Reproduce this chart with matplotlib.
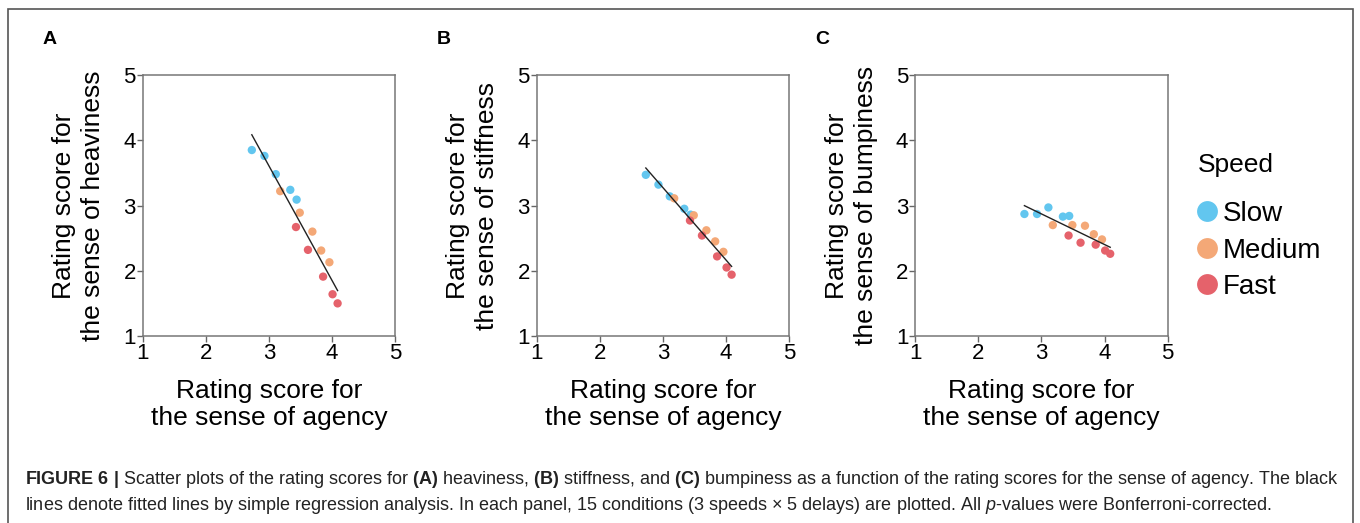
"""Figure 6: rating scores for heaviness / stiffness / bumpiness vs sense of agency."""
import matplotlib
matplotlib.use('Agg')
import matplotlib.pyplot as plt
from matplotlib.lines import Line2D
from matplotlib.patches import Rectangle
import numpy as np

plt.rcParams['font.family'] = ['Liberation Sans', 'DejaVu Sans']
plt.rcParams['mathtext.fontset'] = 'custom'
plt.rcParams['mathtext.rm'] = 'Liberation Sans'
plt.rcParams['mathtext.bf'] = 'Liberation Sans:bold'
plt.rcParams['mathtext.it'] = 'Liberation Sans:italic'

# === DATA ===
speeds = ['Slow', 'Medium', 'Fast']
speed_colors = ['#62C6EF', '#F4A877', '#E5626B']

# sense of agency (x), same 15 conditions in every panel
agency = {
    'Slow':   [2.73, 2.93, 3.11, 3.34, 3.44],
    'Medium': [3.18, 3.49, 3.69, 3.83, 3.96],
    'Fast':   [3.43, 3.62, 3.86, 4.01, 4.09],
}
heaviness = {
    'Slow':   [3.85, 3.76, 3.48, 3.24, 3.09],
    'Medium': [3.22, 2.89, 2.60, 2.31, 2.13],
    'Fast':   [2.67, 2.32, 1.91, 1.64, 1.50],
}
stiffness = {
    'Slow':   [3.47, 3.32, 3.14, 2.95, 2.86],
    'Medium': [3.11, 2.85, 2.62, 2.45, 2.29],
    'Fast':   [2.77, 2.54, 2.22, 2.05, 1.94],
}
bumpiness = {
    'Slow':   [2.87, 2.87, 2.97, 2.83, 2.84],
    'Medium': [2.70, 2.70, 2.69, 2.56, 2.48],
    'Fast':   [2.54, 2.43, 2.40, 2.31, 2.26],
}

panels = [
    ('A', heaviness, 'Rating score for\nthe sense of heaviness'),
    ('B', stiffness, 'Rating score for\nthe sense of stiffness'),
    ('C', bumpiness, 'Rating score for\nthe sense of bumpiness'),
]
ticks = [1, 2, 3, 4, 5]

# === CHART ===
W, H = 1360, 523
fig = plt.figure(figsize=(W / 100, H / 100), dpi=100)

ax_lefts = [142.7, 536.7, 915.3]
letter_x = [50, 444, 822]
ax_w, ax_top, ax_bot = 252.3, 75, 336

for (letter, ydata, ylabel), left, lx in zip(panels, ax_lefts, letter_x):
    ax = fig.add_axes([left / W, 1 - ax_bot / H, ax_w / W, (ax_bot - ax_top) / H])
    xs_all, ys_all = [], []
    for sp, col in zip(speeds, speed_colors):
        ax.scatter(agency[sp], ydata[sp], s=36, color=col, edgecolors='none', zorder=3)
        xs_all += agency[sp]
        ys_all += ydata[sp]
    # simple regression line
    slope, intercept = np.polyfit(xs_all, ys_all, 1)
    xl = np.array([min(xs_all), max(xs_all)])
    ax.plot(xl, slope * xl + intercept, color='#222222', linewidth=1.0, zorder=4)

    ax.set_xlim(1, 5)
    ax.set_ylim(1, 5)
    ax.set_xticks(ticks)
    ax.set_yticks(ticks)
    ax.tick_params(labelsize=16, length=4, width=1, color='#666666', pad=1)
    for spine in ax.spines.values():
        spine.set_color('#777777')
        spine.set_linewidth(1.1)
    ax.set_xlabel('Rating score for\nthe sense of agency', fontsize=19, labelpad=11, linespacing=1.17)
    ax.set_ylabel(ylabel, fontsize=19, labelpad=13, linespacing=1.25)

    fig.text(lx / W, 1 - 40 / H, letter, fontsize=14, fontweight='bold', ha='center', va='center')

# legend (title drawn separately to get the larger gap)
fig.text(1198 / W, 1 - 165 / H, 'Speed', fontsize=19, ha='left', va='center')
handles = [Line2D([], [], marker='o', linestyle='none', markersize=15, color=c, markeredgewidth=0)
           for c in speed_colors]
leg = fig.legend(handles, speeds, loc='upper left',
                 bbox_to_anchor=(1194 / W, 1 - 201 / H), frameon=False, fontsize=20,
                 handletextpad=0.1, labelspacing=0.38, handlelength=0.95,
                 borderaxespad=0, borderpad=0)

# outer frame (open at the bottom)
fig.patches.append(Rectangle((8 / W, -0.1), (1353 - 8) / W, 1.1 - 9 / H, transform=fig.transFigure,
                             fill=False, edgecolor='#555555', linewidth=1.2))

# caption
cap1 = (r'$\mathbf{FIGURE\ 6\ |}$ Scatter plots of the rating scores for $\mathbf{(A)}$ heaviness, '
        r'$\mathbf{(B)}$ stiffness, and $\mathbf{(C)}$ bumpiness as a function of the rating scores '
        r'for the sense of agency. The black')
cap2 = (r'lines denote fitted lines by simple regression analysis. In each panel, 15 conditions '
        r'(3 speeds × 5 delays) are plotted. All $p$-values were Bonferroni-corrected.')
fig.text(25 / W, 1 - 479 / H, cap1, fontsize=13, ha='left', va='center', color='#222222')
fig.text(25 / W, 1 - 505 / H, cap2, fontsize=13, ha='left', va='center', color='#222222')

fig.savefig('out.png', dpi=100)
